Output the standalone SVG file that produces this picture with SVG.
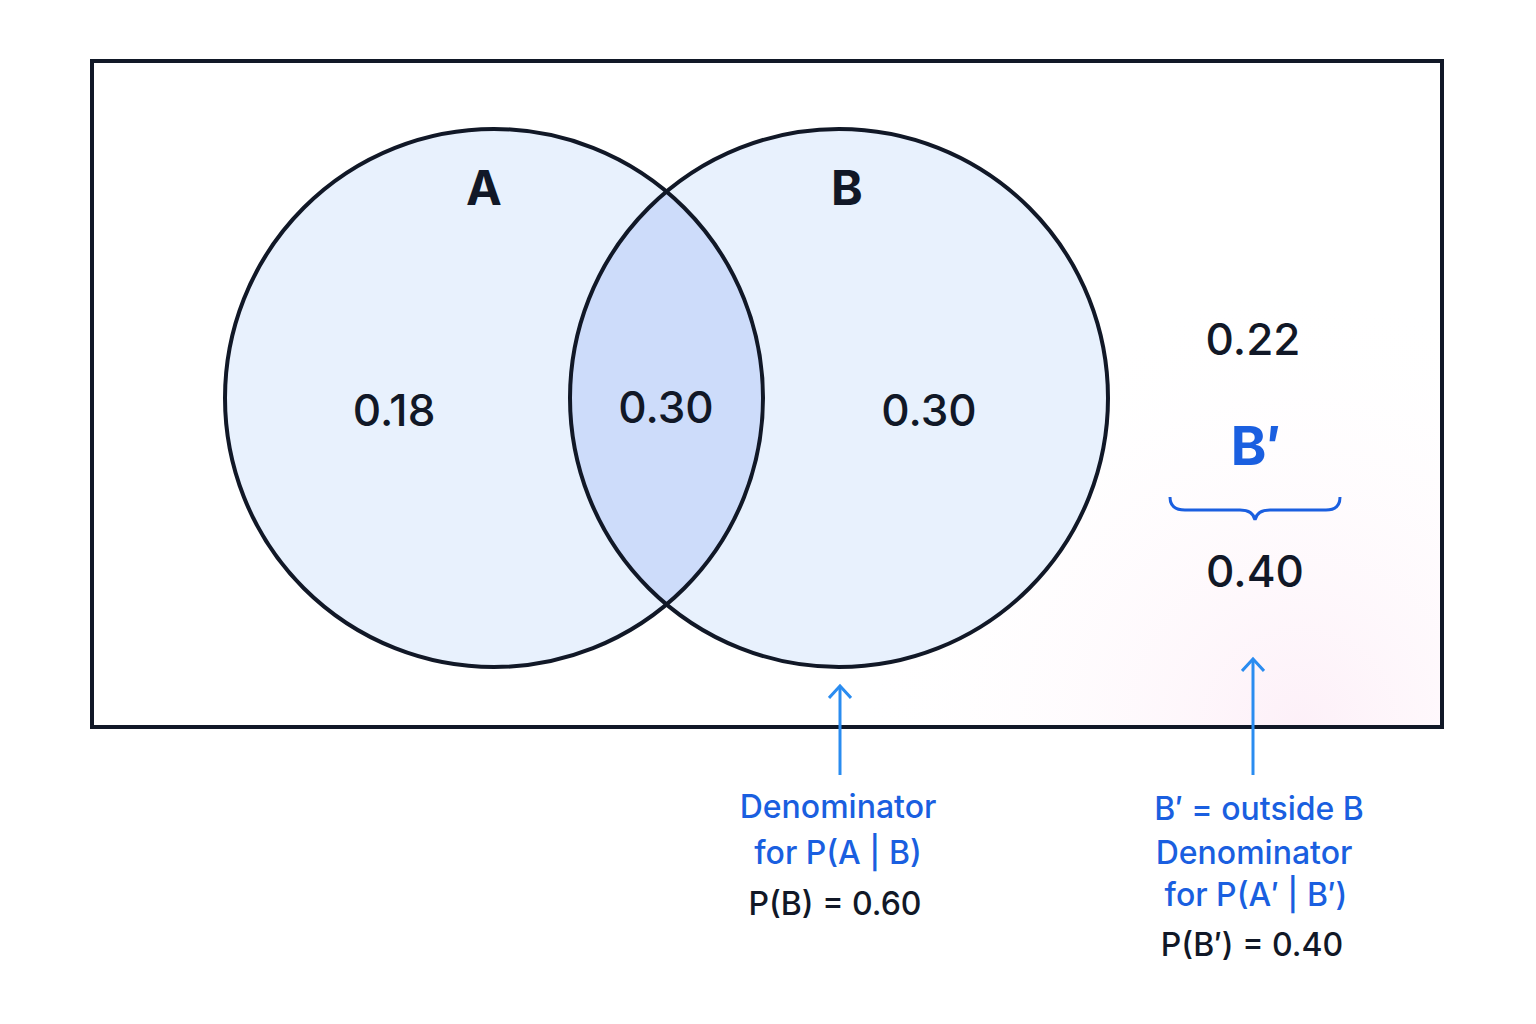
<svg xmlns="http://www.w3.org/2000/svg" width="1536" height="1024" viewBox="0 0 1536 1024">
<defs>
<style>
.t{font-family:"Inter","Noto Sans",sans-serif;fill:#111827;text-anchor:middle;font-weight:500}
.b{font-family:"Inter","Noto Sans",sans-serif;fill:#1a5fe0;text-anchor:middle;font-weight:500}
.c{fill:#e8f1fd}
</style>
<radialGradient id="pk" cx="1300" cy="727" r="450" gradientUnits="userSpaceOnUse">
<stop offset="0" stop-color="#fdf0f8"/><stop offset="1" stop-color="#ffffff" stop-opacity="0"/>
</radialGradient>
<clipPath id="clipA"><circle cx="494" cy="398" r="269"/></clipPath>
<marker id="ar" viewBox="0 0 20 24" refX="16" refY="12" markerWidth="20" markerHeight="24" markerUnits="userSpaceOnUse" orient="auto">
<path d="M4 1 L16 12 L4 23" fill="none" stroke="#2a8cf0" stroke-width="3"/>
</marker>
</defs>
<rect width="1536" height="1024" fill="#fff"/>
<g id="universe">
<rect x="92" y="61" width="1350" height="666" fill="url(#pk)" stroke="#111827" stroke-width="4"/>
</g>
<g id="circleA"><circle class="c" cx="494" cy="398" r="269"/></g>
<g id="circleB"><circle class="c" cx="839" cy="398" r="269"/></g>
<g id="intersection"><circle cx="839" cy="398" r="269" fill="#cddcfa" clip-path="url(#clipA)"/></g>
<g id="outlines" fill="none" stroke="#111827" stroke-width="4">
<circle cx="494" cy="398" r="269"/><circle cx="839" cy="398" r="269"/>
</g>
<g id="labels">
<text class="t" x="484" y="205" font-size="48" font-weight="bold" style="font-weight:700">A</text>
<text class="t" x="847" y="205" font-size="48" style="font-weight:700">B</text>
<text class="t" x="394" y="426" font-size="44">0.18</text>
<text class="t" x="666" y="423" font-size="44">0.30</text>
<text class="t" x="929" y="426" font-size="44">0.30</text>
<text class="t" x="1253" y="355" font-size="44">0.22</text>
<text class="b" x="1256" y="465" font-size="54" style="font-weight:700">B′</text>
<text class="t" x="1255" y="587" font-size="44">0.40</text>
</g>
<g id="connectors" fill="none">
<path d="M1170 497 Q1170 510 1185 510 L1240 510 Q1253 510 1255 520 Q1257 510 1270 510 L1326 510 Q1340 510 1340 497" stroke="#1a5fe0" stroke-width="3"/>
<line x1="840" y1="775" x2="840" y2="686" stroke="#2a8cf0" stroke-width="3" marker-end="url(#ar)"/>
<line x1="1253" y1="775" x2="1253" y2="659" stroke="#2a8cf0" stroke-width="3" marker-end="url(#ar)"/>
</g>
<g id="note1">
<text class="b" x="838" y="818" font-size="32">Denominator</text>
<text class="b" x="838" y="864" font-size="32">for P(A | B)</text>
<text class="t" x="835" y="915" font-size="32">P(B) = 0.60</text>
</g>
<g id="note2">
<text class="b" x="1259" y="820" font-size="32">B′ = outside B</text>
<text class="b" x="1254" y="864" font-size="32">Denominator</text>
<text class="b" x="1256" y="906" font-size="32">for P(A′ | B′)</text>
<text class="t" x="1252" y="956" font-size="32">P(B′) = 0.40</text>
</g>
</svg>
